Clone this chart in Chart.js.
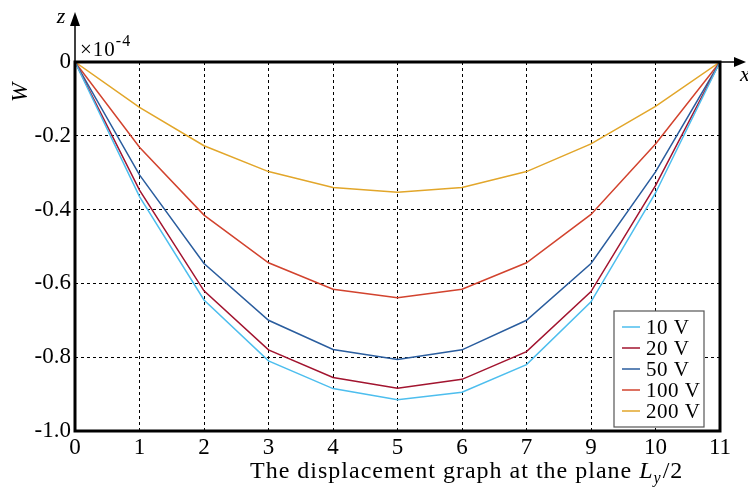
<!DOCTYPE html>
<html>
<head>
<meta charset="utf-8">
<script src="https://cdn.jsdelivr.net/npm/chart.js@4"></script>
<style>
  html, body { margin: 0; padding: 0; background: #fff; }
  #wrap { width: 748px; height: 492px; }
</style>
</head>
<body>
<div id="wrap"><canvas id="disp_chart" width="748" height="492"></canvas></div>
<script>
const positions = ["0", "1", "2", "3", "4", "5", "6", "7", "9", "10", "11"];
const seriesNames = ["10 V", "20 V", "50 V", "100 V", "200 V"];
const w10 = [0, -0.365, -0.645, -0.81, -0.885, -0.915, -0.895, -0.82, -0.65, -0.355, 0];
const w20 = [0, -0.347, -0.62, -0.78, -0.855, -0.884, -0.86, -0.785, -0.622, -0.335, 0];
const w50 = [0, -0.306, -0.546, -0.70, -0.779, -0.806, -0.78, -0.70, -0.546, -0.298, 0];
const w100 = [0, -0.231, -0.415, -0.544, -0.616, -0.639, -0.616, -0.544, -0.413, -0.222, 0];
const w200 = [0, -0.123, -0.227, -0.297, -0.34, -0.353, -0.34, -0.297, -0.222, -0.12, 0];
const yTicks = [0, -0.2, -0.4, -0.6, -0.8, -1.0];
const colors = ["#4dbeee", "#a2142f", "#2a5d9e", "#d2432e", "#e2a62a"];

const serif = "'Liberation Serif', 'DejaVu Serif', serif";

// frame, arrows, axis letters, exponent, legend
const decor = {
  id: "decor",
  afterDraw(chart) {
    const ctx = chart.ctx;
    const a = chart.chartArea;
    ctx.save();
    ctx.strokeStyle = "#000";
    ctx.lineWidth = 3;
    ctx.strokeRect(a.left, a.top, a.right - a.left, a.bottom - a.top);

    // x arrow
    ctx.lineWidth = 1.5;
    ctx.beginPath();
    ctx.moveTo(a.right, a.top);
    ctx.lineTo(a.right + 16, a.top);
    ctx.stroke();
    ctx.fillStyle = "#000";
    ctx.beginPath();
    ctx.moveTo(a.right + 26, a.top);
    ctx.lineTo(a.right + 14, a.top - 5);
    ctx.lineTo(a.right + 14, a.top + 5);
    ctx.closePath();
    ctx.fill();

    // z arrow
    ctx.beginPath();
    ctx.moveTo(a.left, a.top);
    ctx.lineTo(a.left, a.top - 36);
    ctx.stroke();
    ctx.beginPath();
    ctx.moveTo(a.left, a.top - 50);
    ctx.lineTo(a.left - 5, a.top - 36);
    ctx.lineTo(a.left + 5, a.top - 36);
    ctx.closePath();
    ctx.fill();

    ctx.font = "italic 22px " + serif;
    ctx.textAlign = "center";
    ctx.textBaseline = "middle";
    ctx.fillText("x", a.right + 25, a.top + 13);
    ctx.fillText("z", a.left - 14, a.top - 45);

    // exponent
    ctx.textAlign = "left";
    ctx.textBaseline = "alphabetic";
    ctx.font = "21px " + serif;
    ctx.letterSpacing = "1px";
    ctx.fillText("\u00d710", a.left + 5, a.top - 6);
    const w = ctx.measureText("\u00d710").width;
    ctx.font = "16px " + serif;
    ctx.fillText("-4", a.left + 5 + w, a.top - 16);

    // y label
    ctx.save();
    ctx.translate(21, a.top + 30);
    ctx.rotate(-Math.PI / 2);
    ctx.font = "italic 23px " + serif;
    ctx.textAlign = "center";
    ctx.textBaseline = "middle";
    ctx.fillText("W", 0, 0);
    ctx.restore();

    // x title
    ctx.font = "24px " + serif;
    ctx.letterSpacing = "1px";
    ctx.textAlign = "left";
    ctx.textBaseline = "alphabetic";
    const t1 = "The displacement graph at the plane ";
    let x0 = 250;
    ctx.fillText(t1, x0, 478);
    x0 += ctx.measureText(t1).width;
    ctx.font = "italic 24px " + serif;
    ctx.fillText("L", x0, 478);
    x0 += ctx.measureText("L").width;
    ctx.font = "italic 16px " + serif;
    ctx.fillText("y", x0, 483);
    x0 += ctx.measureText("y").width + 1;
    ctx.font = "24px " + serif;
    ctx.fillText("/2", x0, 478);

    // legend box
    const lx = 614, ly = 311, lw = 90, lh = 116;
    ctx.fillStyle = "#fff";
    ctx.fillRect(lx, ly, lw, lh);
    ctx.strokeStyle = "#555";
    ctx.lineWidth = 1.2;
    ctx.strokeRect(lx, ly, lw, lh);
    ctx.font = "21px " + serif;
    ctx.letterSpacing = "0.5px";
    ctx.textBaseline = "middle";
    chart.data.datasets.forEach((ds, i) => {
      const yy = ly + 16 + i * 21;
      ctx.strokeStyle = ds.borderColor;
      ctx.lineWidth = 1.5;
      ctx.beginPath();
      ctx.moveTo(lx + 8, yy);
      ctx.lineTo(lx + 26, yy);
      ctx.stroke();
      ctx.fillStyle = "#000";
      ctx.fillText(ds.label, lx + 32, yy + 1);
    });
    ctx.restore();
  }
};

const ctx = document.getElementById("disp_chart").getContext("2d");
const allSeries = [w10, w20, w50, w100, w200];

new Chart(ctx, {
  type: "line",
  data: {
    labels: positions,
    datasets: allSeries.map((d, i) => ({
      label: seriesNames[i],
      data: d,
      borderColor: colors[i],
      backgroundColor: colors[i],
      borderWidth: 1.5,
      pointRadius: 0,
      tension: 0,
      fill: false
    }))
  },
  options: {
    responsive: false,
    animation: false,
    layout: { padding: { left: 0, top: 62, right: 28, bottom: 0 } },
    plugins: {
      legend: { display: false },
      tooltip: { enabled: false }
    },
    scales: {
      x: {
        type: "category",
        offset: false,
        grid: {
          offset: false,
          color: (c) => (c.index === 0 || c.index === positions.length - 1) ? "rgba(0,0,0,0)" : "#000",
          lineWidth: 1,
          drawTicks: false
        },
        border: { display: false, dash: [3, 3] },
        ticks: {
          color: "#000",
          font: { family: serif, size: 23 },
          padding: 3,
          maxRotation: 0,
          autoSkip: false
        },
        afterFit: (s) => { s.height = 61; }
      },
      y: {
        min: -1,
        max: 0,
        afterBuildTicks: (s) => { s.ticks = yTicks.map(v => ({ value: v })); },
        grid: {
          color: (c) => (c.tick && (c.tick.value === 0 || c.tick.value === -1)) ? "rgba(0,0,0,0)" : "#000",
          lineWidth: 1,
          drawTicks: false
        },
        border: { display: false, dash: [3, 3] },
        ticks: {
          color: "#000",
          font: { family: serif, size: 23 },
          padding: 4,
          callback: (v) => v === 0 ? "0" : Number(v).toFixed(1)
        },
        afterFit: (s) => { s.width = 75; }
      }
    }
  },
  plugins: [decor]
});
</script>
</body>
</html>
